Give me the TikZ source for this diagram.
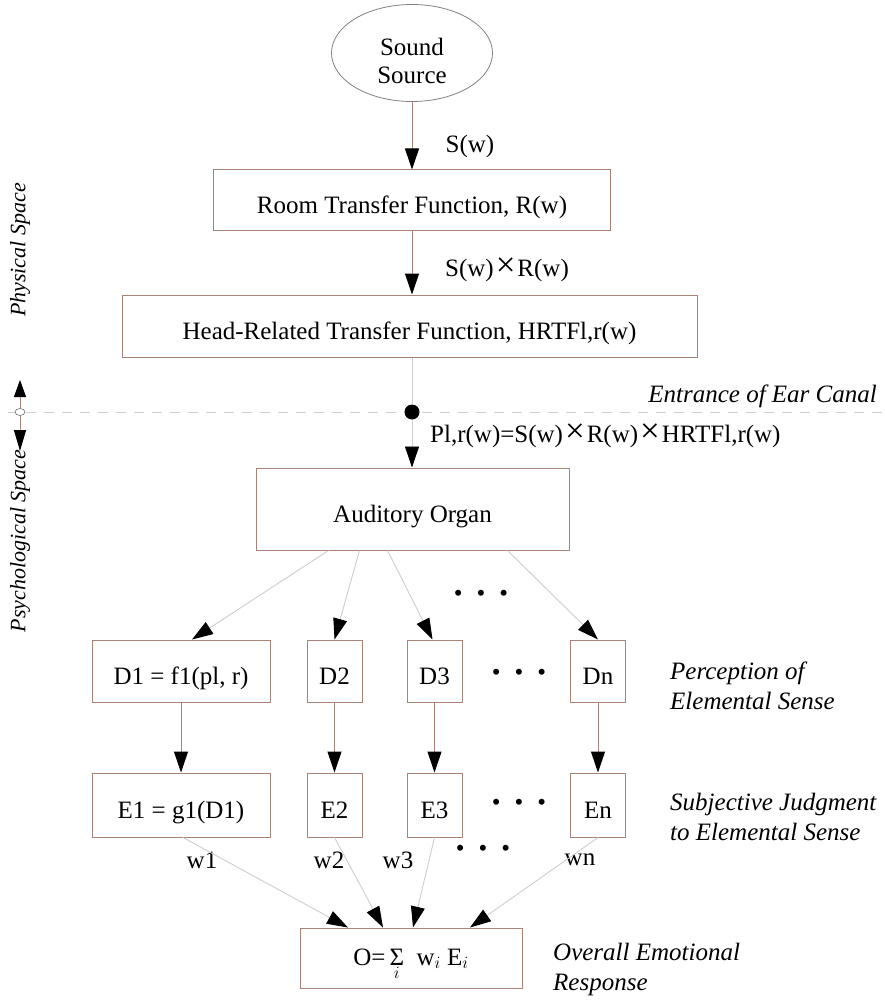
\documentclass[tikz,border=0pt]{standalone}
\usepackage{fontspec}
\setmainfont{Liberation Serif}
\usetikzlibrary{positioning,arrows.meta,shapes.geometric}
\definecolor{borde}{RGB}{170,130,120}
\definecolor{tenue}{RGB}{205,205,205}
\tikzset{caja/.style={draw=borde,line width=1pt,inner sep=0pt,minimum height=62pt,text height=26pt,text depth=0pt}}
\tikzset{flecha/.style={draw=borde,line width=1pt,-{Triangle[length=21pt,width=14pt,black]}}}
\tikzset{flechat/.style={draw=tenue,line width=0.9pt,-{Triangle[length=21pt,width=14pt,black]}}}
\tikzset{etiq/.style={font=\fontsize{25}{30}\selectfont\itshape,align=left,inner sep=0pt}}
\newcommand{\por}{\hspace{2pt}\scalebox{1.4}{×}\hspace{2pt}}
\newcommand{\puntos}{•\hspace{14pt}•\hspace{14pt}•}

\begin{document}
\begin{tikzpicture}[x=1pt,y=-1pt,font=\fontsize{25}{28}\selectfont]
\useasboundingbox (0,0) rectangle (884,1003);
            % espacio fisico
            \node[ellipse,draw=gray,line width=0.8pt,minimum width=161pt,minimum height=97pt,inner sep=0pt] (fuente) at (412,53) {};
            \node[align=center,inner sep=0pt] (fuentetxt) at (412,61) {Sound\\Source};
            \node[caja,minimum width=397pt,minimum height=60pt] (sala) at (412,200) {Room Transfer Function, R(w)};
            \node[caja,minimum width=575pt] (hrtf) at (409.5,326) {Head-Related Transfer Function, HRTFl,r(w)};
            \node[inner sep=0pt] (sw) at (470,146) {S(w)};
            \node[inner sep=0pt] (swrw) at (507,270) {S(w)\por R(w)};

            \draw[flecha] (fuente) -- (fuente |- sala.north);
            \draw[flecha] (sala) -- (sala |- hrtf.north);

            % oido
            \coordinate (bordeizq) at (8,412);
            \coordinate (bordeder) at (884,412);
            \draw[tenue,line width=0.9pt,dash pattern=on 10pt off 8pt] (bordeizq) -- (bordeder);
            \node[circle,fill=black,inner sep=0pt,minimum size=15pt] (oido) at (412,412) {};
            \node[etiq,anchor=east] (entrada) at (877,396) {Entrance of Ear Canal};
            \node[inner sep=0pt,anchor=west] (presion) at (430,436) {Pl,r(w)=S(w)\por R(w)\por HRTFl,r(w)};
            \node[caja,minimum width=313pt,minimum height=82pt] (organo) at (412.5,509) {Auditory Organ};

            \draw[tenue,line width=0.9pt] (hrtf.south -| oido) -- (oido);
            \draw[flechat] (oido) -- (oido |- organo.north);

            % lado izquierdo
            \coordinate (arriba) at (20,380);
            \coordinate (abajo) at (20,451);
            \draw[draw=borde,line width=1pt,{Triangle[length=17pt,width=12pt,black]}-{Triangle[length=21pt,width=12pt,black]}] (arriba) -- (abajo);
            \node[ellipse,draw=gray,fill=white,line width=0.7pt,minimum width=10pt,minimum height=7pt,inner sep=0pt] (limite) at (20,412) {};
            \node[etiq,font=\fontsize{22}{26}\selectfont\itshape,rotate=90] (fisico) at (20,250) {Physical Space};
            \node[etiq,font=\fontsize{22}{26}\selectfont\itshape,rotate=90] (psico) at (20,541) {Psychological Space};

            % sensaciones elementales
            \node[caja,minimum width=178pt] (d1) at (181,671) {D1 = f1(pl, r)};
            \node[caja,minimum width=55pt] (d2) at (334.5,671) {D2};
            \node[caja,minimum width=55pt] (d3) at (434.5,671) {D3};
            \node[caja,minimum width=55pt] (dn) at (598,671) {Dn};
            \node[inner sep=0pt] (pd) at (519,675) {\puntos};
            \node[inner sep=0pt] (pa) at (481,596) {\puntos};
            \node[etiq,anchor=west] (percep) at (670,686) {Perception of\\Elemental Sense};

            \draw[flechat] ([xshift=-84pt]organo.south) -- ([xshift=11pt]d1.north);
            \draw[flechat] ([xshift=-53pt]organo.south) -- (d2.north);
            \draw[flechat] ([xshift=-25pt]organo.south) -- ([xshift=-2pt]d3.north);
            \draw[flechat] ([xshift=95pt]organo.south) -- (dn.north);

            % juicios
            \node[caja,minimum width=178pt,minimum height=64pt] (e1) at (181,805) {E1 = g1(D1)};
            \node[caja,minimum width=55pt,minimum height=64pt] (e2) at (334.5,805) {E2};
            \node[caja,minimum width=55pt,minimum height=64pt] (e3) at (434.5,805) {E3};
            \node[caja,minimum width=55pt,minimum height=64pt] (en) at (598,805) {En};
            \node[inner sep=0pt] (pe) at (519,805) {\puntos};
            \node[etiq,anchor=west] (juicio) at (670,817) {Subjective Judgment\\to Elemental Sense};

            \draw[flecha] (d1) -- (e1);
            \draw[flecha] (d2) -- (e2);
            \draw[flecha] (d3) -- (e3);
            \draw[flecha] (dn) -- (en);

            % respuesta
            \node[caja,minimum width=222pt,minimum height=60pt,text height=22pt,text depth=8pt] (total) at (411,958) {O=\,$\mathop{\hbox{Σ}}\limits_{i}$\ \ w$_{i}$ E$_{i}$};
            \node[etiq,anchor=west] (global) at (553,969) {Overall Emotional\\Response};
            \node[inner sep=0pt] (w1) at (202,860) {w1};
            \node[inner sep=0pt] (w2) at (329,860) {w2};
            \node[inner sep=0pt] (w3) at (398,860) {w3};
            \node[inner sep=0pt] (pw) at (483,851) {\puntos};
            \node[inner sep=0pt] (wn) at (580,860) {wn};

            \draw[flechat] ([xshift=2pt]e1.south) -- ([xshift=-63pt]total.north);
            \draw[flechat] (e2.south) -- ([xshift=-28pt]total.north);
            \draw[flechat] (e3.south) -- ([xshift=2pt]total.north);
            \draw[flechat] (en.south) -- ([xshift=59pt]total.north);
\end{tikzpicture}
\end{document}
